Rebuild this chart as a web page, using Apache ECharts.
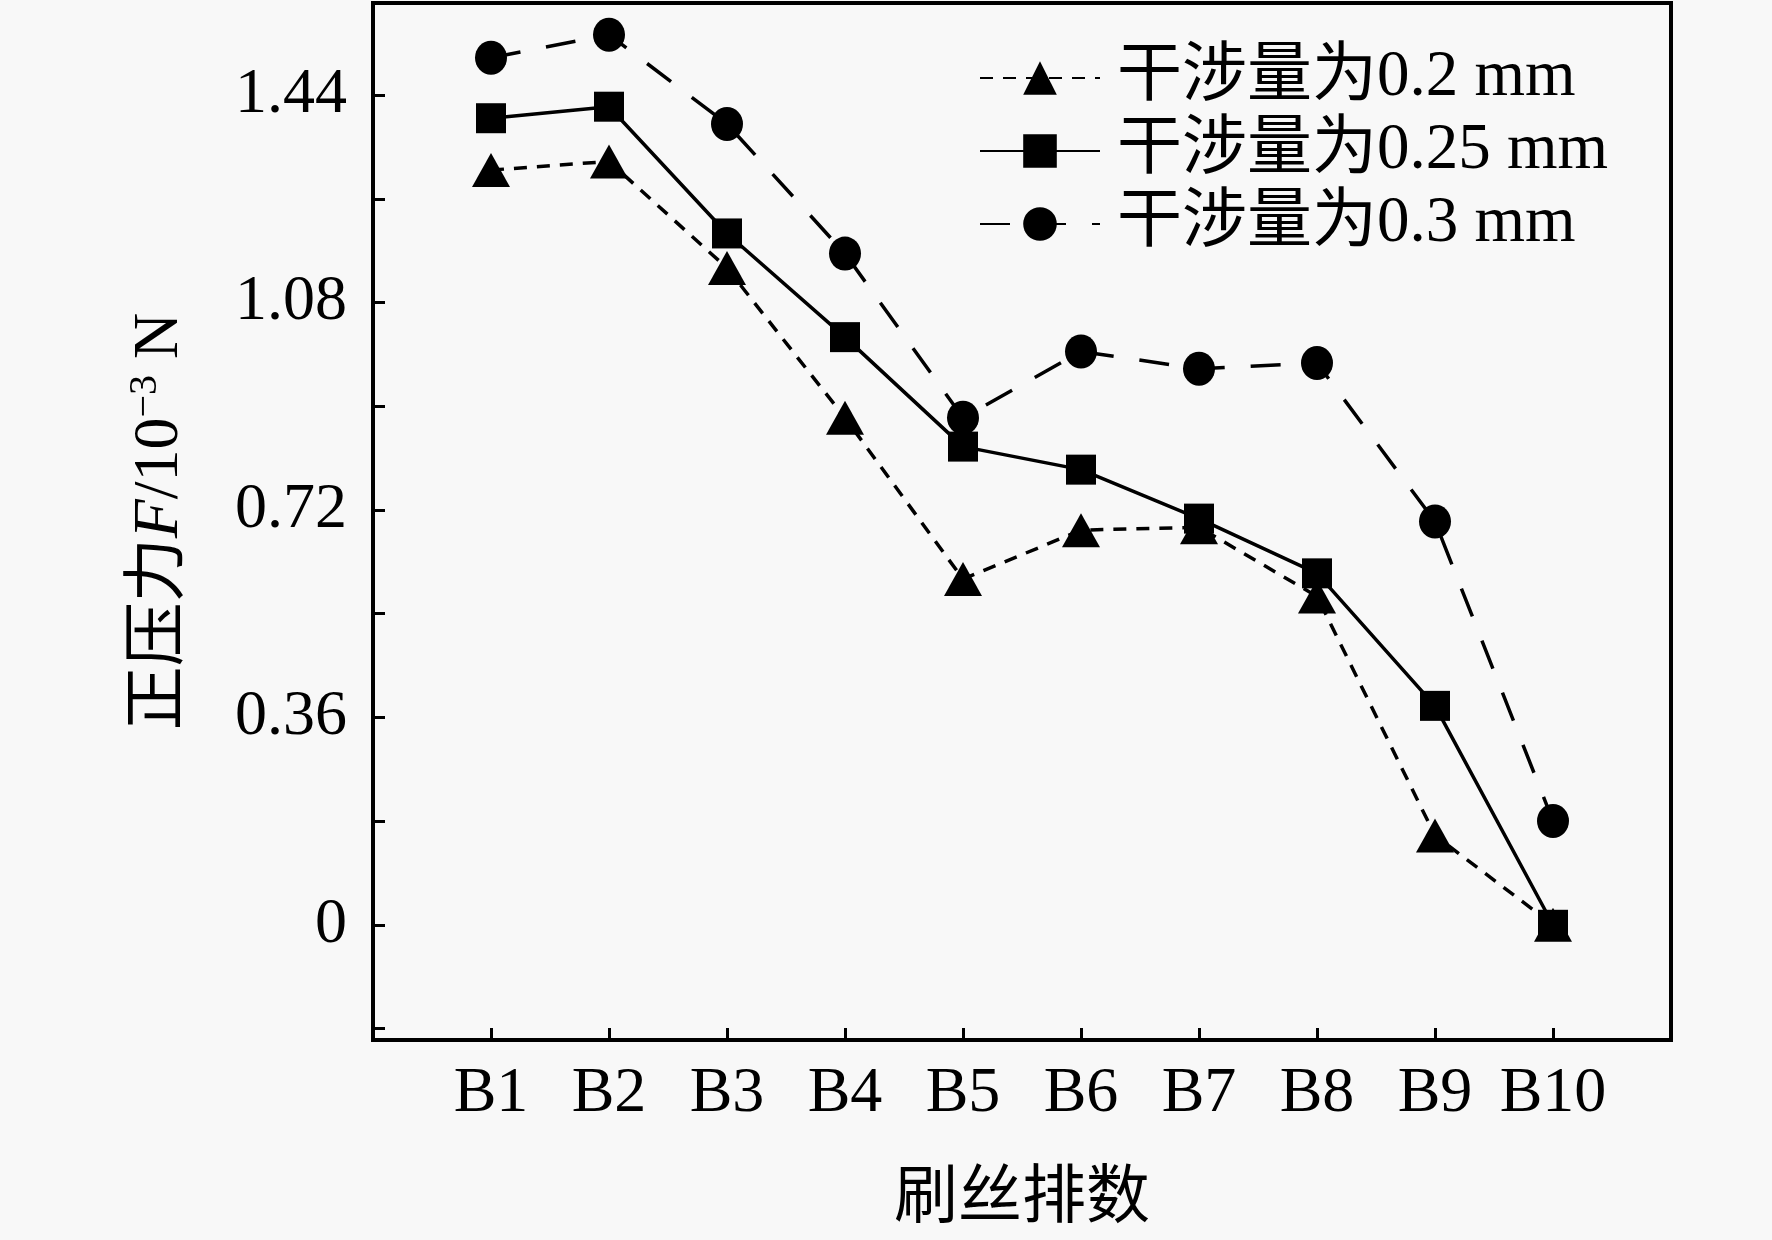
<!DOCTYPE html>
<html>
<head>
<meta charset="utf-8">
<script src="https://cdn.jsdelivr.net/npm/echarts@6/dist/echarts.min.js"></script>
<style>
html,body{margin:0;padding:0;background:#f8f8f8;}
#c{width:1772px;height:1240px;}
</style>
</head>
<body>
<div id="c"></div>
<script>
const categories = ['B1','B2','B3','B4','B5','B6','B7','B8','B9','B10'];
const seriesNames = ['干涉量为0.2 mm','干涉量为0.25 mm','干涉量为0.3 mm'];
const values02 = [1.31,1.325,1.14,0.88,0.60,0.685,0.69,0.57,0.155,0];
const values025 = [1.40,1.42,1.20,1.02,0.83,0.79,0.705,0.61,0.38,0];
const values03 = [1.505,1.545,1.39,1.165,0.88,0.995,0.965,0.975,0.70,0.18];
const yTickLabels = [0,0.36,0.72,1.08,1.44];
const yMinorTicks = [-0.18,0.18,0.54,0.9,1.26];
const xAxisName = '刷丝排数';

const FONT = "'Liberation Serif','Times New Roman','Noto Sans CJK SC',serif";
const positions = categories.map((c,i)=>i+1);
const toPairs = arr => arr.map((v,i)=>[positions[i], v]);

const chart = echarts.init(document.getElementById('c'), null, {renderer:'canvas'});
const allTicks = yTickLabels.concat(yMinorTicks).sort((a,b)=>a-b);

chart.setOption({
  backgroundColor:'#f8f8f8',
  animation:false,
  grid:{left:373, right:101, top:3, bottom:200, show:true, borderColor:'#000', borderWidth:4, backgroundColor:'transparent'},
  legend:{
    left:974, top:38, orient:'vertical',
    itemWidth:120, itemHeight:42, itemGap:3,
    textStyle:{fontFamily:FONT, fontSize:65, lineHeight:70, color:'#000', padding:[0,0,0,12]},
    data:seriesNames
  },
  xAxis:{
    type:'value', min:0, max:11,
    axisLine:{show:true, onZero:false, lineStyle:{color:'#000', width:4}},
    axisTick:{show:true, inside:true, length:12, lineStyle:{color:'#000', width:3}, customValues:positions},
    axisLabel:{show:true, customValues:positions, margin:22, fontFamily:FONT, fontSize:64, color:'#000',
      formatter:v=>categories[Math.round(v)-1] || ''},
    splitLine:{show:false},
    name:xAxisName, nameLocation:'middle', nameGap:128,
    nameTextStyle:{fontFamily:FONT, fontSize:64, color:'#000'}
  },
  yAxis:{
    type:'value', min:-0.2, max:1.6,
    axisLine:{show:true, onZero:false, lineStyle:{color:'#000', width:4}},
    axisTick:{show:true, inside:true, length:12, lineStyle:{color:'#000', width:3}, customValues:allTicks},
    axisLabel:{show:true, customValues:yTickLabels, margin:26, fontFamily:FONT, fontSize:64, color:'#000',
      formatter:v=>String(v)},
    splitLine:{show:false},
    name:'{a|正压力}{i|F}{a|/10}{s|−3}{a| N}',
    nameLocation:'middle', nameGap:178, nameRotate:90,
    nameTextStyle:{fontFamily:FONT, fontSize:64, color:'#000',
      rich:{
        a:{fontFamily:FONT, fontSize:64, color:'#000'},
        i:{fontFamily:FONT, fontSize:64, color:'#000', fontStyle:'italic'},
        s:{fontFamily:FONT, fontSize:40, color:'#000', padding:[0,0,30,0]}
      }}
  },
  series:[
    {name:seriesNames[0], type:'line', data:toPairs(values02), symbol:'triangle', symbolSize:[38,34],
     lineStyle:{color:'#000', width:3.5, type:[13,10]}, itemStyle:{color:'#000'}, z:2},
    {name:seriesNames[1], type:'line', data:toPairs(values025), symbol:'rect', symbolSize:30,
     lineStyle:{color:'#000', width:3.5, type:'solid'}, itemStyle:{color:'#000'}, z:4},
    {name:seriesNames[2], type:'line', data:toPairs(values03), symbol:'circle', symbolSize:[32,34],
     lineStyle:{color:'#000', width:3.5, type:[30,26]}, itemStyle:{color:'#000'}, z:3}
  ]
});
</script>
</body>
</html>
